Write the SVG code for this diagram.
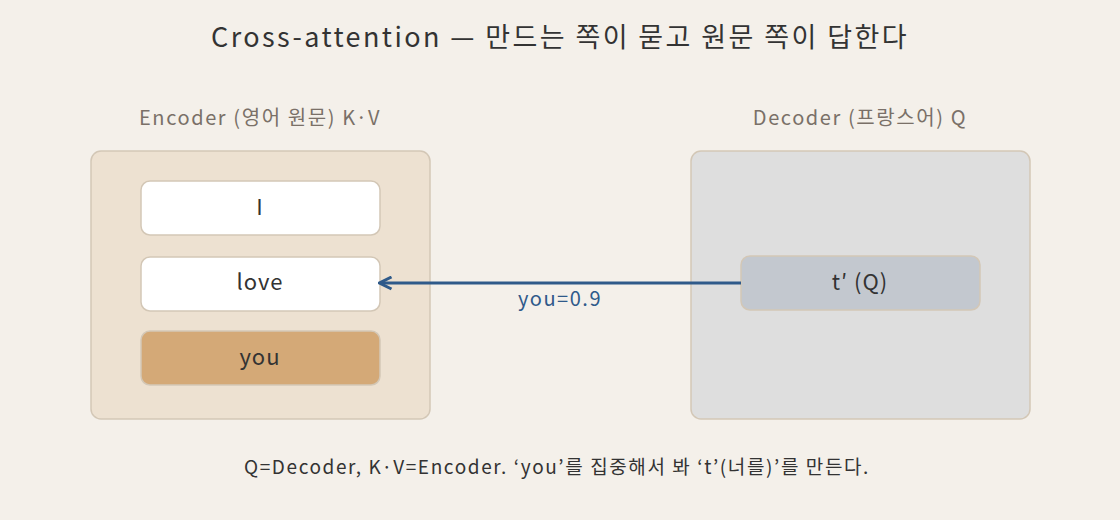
<svg xmlns="http://www.w3.org/2000/svg" width="1120" height="520" viewBox="0 0 1120 520">
<defs>
<style>
text{font-family:"Noto Sans CJK KR","Noto Sans",sans-serif;text-anchor:middle;fill:#333}
.lbl{font-size:20px;fill:#7a7068;letter-spacing:1.6px}
.tok{font-size:22px;letter-spacing:1px}
.box{stroke:#d3c7b6;stroke-width:1.5}
</style>
<marker id="ah" viewBox="0 0 10 10" refX="8" refY="5" markerWidth="5" markerHeight="5" orient="auto">
<path d="M1,1 L9,5 L1,9" fill="none" stroke="#2f5a8a" stroke-width="2"/>
</marker>
</defs>
<rect width="1120" height="520" fill="#f4f0ea"/>
<text x="560" y="47" style="font-size:27px;letter-spacing:2.4px">Cross-attention — 만드는 쪽이 묻고 원문 쪽이 답한다</text>
<g id="encoder">
<text class="lbl" x="260" y="125">Encoder (영어 원문) K·V</text>
<rect class="box" x="91" y="151" width="339" height="268" rx="10" fill="#ede1d1"/>
</g>
<g id="decoder">
<text class="lbl" x="860" y="125">Decoder (프랑스어) Q</text>
<rect class="box" x="691" y="151" width="339" height="268" rx="10" fill="#dedede"/>
</g>
<g id="tok-i"><rect class="box" x="141" y="181" width="239" height="54" rx="9" fill="#fff"/><text class="tok" x="260" y="215">I</text></g>
<g id="tok-love"><rect class="box" x="141" y="257" width="239" height="54" rx="9" fill="#fff"/><text class="tok" x="260" y="290">love</text></g>
<g id="tok-you"><rect class="box" x="141" y="331" width="239" height="54" rx="9" fill="#d4a977"/><text class="tok" x="260" y="365">you</text></g>
<g id="tok-t"><rect class="box" x="741" y="256" width="239" height="54" rx="9" fill="#c3c8cf"/><text class="tok" x="860" y="290">t′ (Q)</text></g>
<g id="connectors">
<line x1="741" y1="283" x2="381" y2="283" stroke="#2f5a8a" stroke-width="3" marker-end="url(#ah)"/>
<text x="560" y="306" style="font-size:20px;fill:#2f5a8a;letter-spacing:1.5px">you=0.9</text>
</g>
<text x="557" y="474" style="font-size:19px;letter-spacing:1.6px">Q=Decoder, K·V=Encoder. ‘you’를 집중해서 봐 ‘t’(너를)’를 만든다.</text>
</svg>
